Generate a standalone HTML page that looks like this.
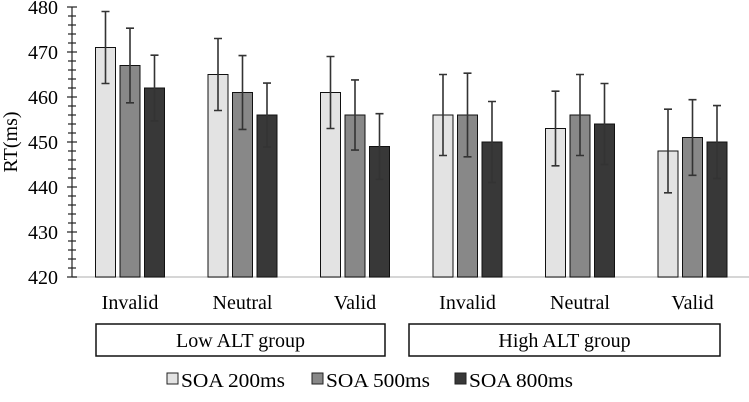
<!DOCTYPE html>
<html><head><meta charset="utf-8"><style>
html,body{margin:0;padding:0;background:#fff;}
svg{display:block;font-family:"Liberation Serif",serif;}
</style></head><body>
<svg id="c" width="749" height="402" viewBox="0 0 749 402">
<g id="plot"></g>
</svg>
<script>
const categories=["Invalid","Neutral","Valid","Invalid","Neutral","Valid"];
const seriesNames=["SOA 200ms","SOA 500ms","SOA 800ms"];
const soa200=[471,465,461,456,453,448];
const soa500=[467,461,456,456,456,451];
const soa800=[462,456,449,450,454,450];
const err200=[8,8,8,9,8.3,9.3];
const err500=[8.3,8.2,7.8,9.3,9,8.4];
const err800=[7.3,7.1,7.3,9,9,8.1];
const yTicks=[420,430,440,450,460,470,480];
const groupLabels=["Low ALT group","High ALT group"];

const NS="http://www.w3.org/2000/svg";
const g=document.getElementById('plot');
const y0=277,yTop=7,vmin=420,vmax=480;
function y(v){return y0-(v-vmin)/(vmax-vmin)*(y0-yTop);}
const axX=72,gx0=130,pitch=112.5,bw=20,bgap=24.5;
function x(i,s){return gx0+i*pitch+(s-1)*bgap;}
function mk(t,a,p){const e=document.createElementNS(NS,t);for(const k in a)e.setAttribute(k,a[k]);(p||g).appendChild(e);return e;}
const fills=["#e3e3e3","#888888","#383838"];
const vals=[soa200,soa500,soa800],errs=[err200,err500,err800];
let e=mk('line',{x1:axX,y1:y0,x2:749,y2:y0,stroke:'#c8c8c8','stroke-width':1.5});


e=mk('line',{x1:axX,y1:yTop,x2:axX,y2:y0,stroke:'#222','stroke-width':1.2});


for(let v=vmin;v<=vmax;v+=2){
  const major=(v-vmin)%10===0;
  e=mk('line',{x1:axX-(major?5:4),x2:axX+(major?5:4),y1:y(v),y2:y(v),stroke:'#222','stroke-width':1.2});
  
  
}
yTicks.forEach(v=>{
  const t=mk('text',{x:58,y:y(v)+7,'text-anchor':'end','font-size':20,fill:'#000'});t.textContent=v;
  
  
});
e=mk('text',{x:0,y:0,transform:'translate(17,142) rotate(-90)','text-anchor':'middle','font-size':20});
e.textContent='RT(ms)';


categories.forEach((c,i)=>{
  for(let s=0;s<3;s++){
    const v=vals[s][i],er=errs[s][i],cx=x(i,s);
    const r=mk('rect',{x:cx-bw/2,y:y(v),width:bw,height:y0-y(v),fill:fills[s],stroke:'#111','stroke-width':1});
    
    
    const eb=mk('path',{d:`M${cx},${y(v-er)}V${y(v+er)}M${cx-4},${y(v-er)}H${cx+4}M${cx-4},${y(v+er)}H${cx+4}`,stroke:'#333','stroke-width':1.6,fill:'none'});
    
    
  }
  const t=mk('text',{x:x(i,1),y:309,'text-anchor':'middle','font-size':20});t.textContent=c;
  
  
});
const boxes=[[96,385],[409,720]];
groupLabels.forEach((lab,i)=>{
  const b=mk('rect',{x:boxes[i][0],y:324,width:boxes[i][1]-boxes[i][0],height:32,fill:'#fff',stroke:'#111','stroke-width':1.5});
  
  
  const t=mk('text',{x:(boxes[i][0]+boxes[i][1])/2,y:347,'text-anchor':'middle','font-size':20});t.textContent=lab;
  
  
});
const lx=[167,312,455];
seriesNames.forEach((n,s)=>{
  const sq=mk('rect',{x:lx[s],y:373,width:11,height:11,fill:fills[s],stroke:'#222','stroke-width':1});
  
  
  const t=mk('text',{x:lx[s]+14,y:387,'font-size':20,textLength:104,lengthAdjust:'spacingAndGlyphs'});t.textContent=n;
  
  
});
</script>
</body></html>
